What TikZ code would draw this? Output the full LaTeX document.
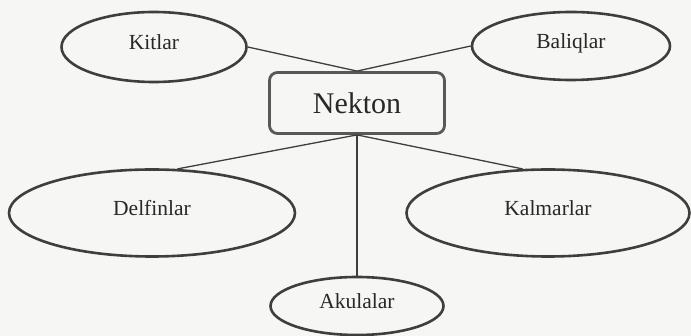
\documentclass[tikz,border=0pt]{standalone}
\usepackage{fontspec}
\setmainfont{Liberation Serif}
\usepackage{xcolor}
\usepackage{tikz}
\usetikzlibrary{shapes.geometric}
\definecolor{paper}{RGB}{246,246,244}
\definecolor{outline}{RGB}{62,62,62}
\definecolor{boxline}{RGB}{88,88,88}
\definecolor{ink}{RGB}{40,40,40}

\begin{document}
\begin{tikzpicture}[x=1pt, y=-1pt,
    group/.style={ellipse, draw=outline, line width=2.6pt, inner sep=0pt,
      text=ink, text depth=10pt, font=\fontsize{21.5}{24}\selectfont},
    root/.style={rectangle, rounded corners=8pt, draw=boxline, line width=2.8pt,
      minimum width=175pt, minimum height=61pt, text=ink,
      font=\fontsize{30}{34}\selectfont},
    link/.style={draw=outline, line width=1.3pt}]
  % Paper
  \fill[paper] (0,0) rectangle (691,336);
  \useasboundingbox (0,0) rectangle (691,336);

  % Centre
  \node[root] (nekton) at (357,103) {Nekton};

  % Groups
  \node[group, minimum width=185pt, minimum height=70pt] (kitlar) at (154,47) {Kitlar};
  \node[group, minimum width=198pt, minimum height=68pt] (baliqlar) at (571,46) {Baliqlar};
  \node[group, minimum width=286pt, minimum height=87pt] (delfinlar) at (152,213) {Delfinlar};
  \node[group, minimum width=283pt, minimum height=87pt] (kalmarlar) at (548,213) {Kalmarlar};
  \node[group, minimum width=173pt, minimum height=58pt] (akulalar) at (357,306) {Akulalar};

  % Links
  \draw[link] (kitlar.east) -- (nekton.north);
  \draw[link] (baliqlar.west) -- (nekton.north);
  \draw[link] (nekton.south) -- (delfinlar.60);
  \draw[link] (nekton.south) -- (kalmarlar.120);
  \draw[link] (nekton.south) -- (akulalar.north);
\end{tikzpicture}
\end{document}
